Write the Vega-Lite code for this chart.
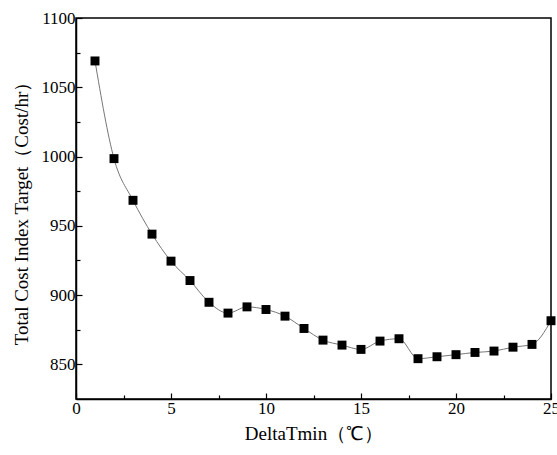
{
  "$schema": "https://vega.github.io/schema/vega-lite/v6.json",
  "autosize": "none",
  "width": 475,
  "height": 381,
  "padding": {"left": 76, "top": 18, "right": 6, "bottom": 56},
  "config": {
    "view": {"stroke": "black", "strokeWidth": 1.5},
    "font": "Liberation Serif",
    "axis": {
      "domainColor": "black",
      "domainWidth": 1.5,
      "tickColor": "black",
      "tickWidth": 1.2,
      "grid": false,
      "labelFlush": false,
      "labelFont": "Liberation Serif",
      "labelFontSize": 17,
      "labelColor": "black",
      "titleFont": "Liberation Serif",
      "titleFontSize": 19,
      "titleFontWeight": "normal",
      "titleColor": "black"
    }
  },
  "data": {
    "values": [
      {"x": 1, "y": 1069},
      {"x": 2, "y": 998.5},
      {"x": 3, "y": 968.4},
      {"x": 4, "y": 944},
      {"x": 5, "y": 924.5},
      {"x": 6, "y": 910.5},
      {"x": 7, "y": 894.8},
      {"x": 8, "y": 887},
      {"x": 9, "y": 891.5},
      {"x": 10, "y": 889.6},
      {"x": 11, "y": 884.8},
      {"x": 12, "y": 875.9},
      {"x": 13, "y": 867.5},
      {"x": 14, "y": 863.9},
      {"x": 15, "y": 860.8},
      {"x": 16, "y": 866.8},
      {"x": 17, "y": 868.5},
      {"x": 18, "y": 854.1},
      {"x": 19, "y": 855.5},
      {"x": 20, "y": 857},
      {"x": 21, "y": 858.6},
      {"x": 22, "y": 859.6},
      {"x": 23, "y": 862.4},
      {"x": 24, "y": 864.4},
      {"x": 25, "y": 881.5}
    ]
  },
  "encoding": {
    "x": {
      "field": "x",
      "type": "quantitative",
      "scale": {"domain": [0, 25], "nice": false, "zero": false},
      "axis": {
        "title": "DeltaTmin（℃）",
        "format": "d",
        "values": [0, 2.5, 5, 7.5, 10, 12.5, 15, 17.5, 20, 22.5, 25],
        "labelExpr": "datum.value % 5 === 0 ? format(datum.value, 'd') : ''",
        "labelFont": "Liberation Serif",
        "labelFontSize": 17,
        "labelFlush": false,
        "tickSize": {"condition": {"test": "datum.value % 5 === 0", "value": -6}, "value": -4},
        "labelPadding": 7,
        "titlePadding": 8
      }
    },
    "y": {
      "field": "y",
      "type": "quantitative",
      "scale": {"domain": [825, 1100], "nice": false, "zero": false},
      "axis": {
        "title": "Total Cost Index Target（Cost/hr）",
        "format": "d",
        "values": [850, 875, 900, 925, 950, 975, 1000, 1025, 1050, 1075, 1100],
        "labelExpr": "datum.value % 50 === 0 ? format(datum.value, 'd') : ''",
        "labelFont": "Liberation Serif",
        "labelFontSize": 17,
        "labelFlush": false,
        "tickSize": {"condition": {"test": "datum.value % 50 === 0", "value": -6}, "value": -4},
        "labelPadding": 7,
        "titlePadding": 10
      }
    }
  },
  "layer": [
    {
      "mark": {"type": "line", "color": "#777777", "strokeWidth": 1, "interpolate": "monotone"}
    },
    {
      "mark": {"type": "point", "shape": "square", "filled": true, "color": "black", "opacity": 1, "size": 80}
    }
  ]
}
